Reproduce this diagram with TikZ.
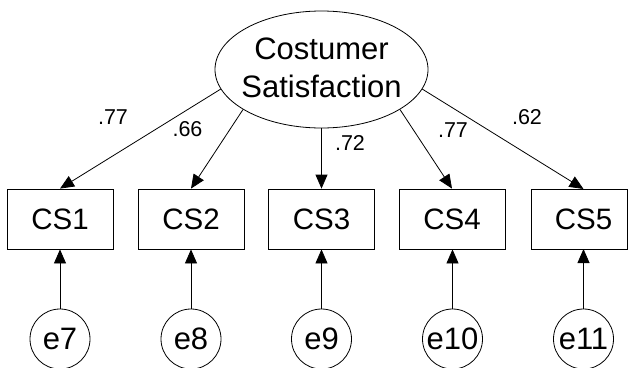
\documentclass[tikz,border=0pt]{standalone}
\usepackage{fontspec}
\setmainfont{Liberation Sans}
\usetikzlibrary{shapes.geometric,arrows.meta}
\begin{document}
\begin{tikzpicture}[x=1bp,y=-1bp,
  every node/.style={inner sep=0pt},
  latent/.style={draw, ellipse, line width=0.8bp, minimum width=213bp, minimum height=117bp},
  caption/.style={font=\fontsize{31bp}{38bp}\selectfont, align=center},
  indicator/.style={draw, rectangle, line width=0.8bp, minimum width=106bp, minimum height=60bp,
    font=\fontsize{29.5bp}{34bp}\selectfont},
  errvar/.style={draw, circle, line width=0.8bp, minimum size=60bp,
    font=\fontsize{31bp}{34bp}\selectfont},
  regpath/.style={line width=0.8bp, -{Triangle[length=14bp,width=12bp]}},
  weight/.style={font=\fontsize{21.5bp}{24bp}\selectfont}
]
\useasboundingbox (0,0) rectangle (628,367);

% latent factor
\node[latent] (ell) at (321.5,69.5) {};
\node[caption] (elltext) at (321.5,67.7) {Costumer\\Satisfaction};

% observed indicators
\node[indicator] (cs1) at (60,219) {CS1};
\node[indicator] (cs2) at (191,219) {CS2};
\node[indicator] (cs3) at (321.5,219) {CS3};
\node[indicator] (cs4) at (452,219) {CS4};
\node[indicator, minimum width=96bp] (cs5) at (579,219) {\hspace*{9bp}CS5};
\coordinate (cs5top) at (583.5,189);
\coordinate (cs5bot) at (583.5,249);

% error terms
\node[errvar] (e7) at (60,339) {e7};
\node[errvar] (e8) at (191,339) {e8};
\node[errvar] (e9) at (321.5,339) {e9};
\node[errvar] (e10) at (452.5,339) {e10};
\node[errvar] (e11) at (583.5,339) {e11};

% factor loadings
\draw[regpath] (ell.191) -- (cs1.north);
\draw[regpath] (ell.207) -- (cs2.north);
\draw[regpath] (ell.south) -- (cs3.north);
\draw[regpath] (ell.333) -- (cs4.north);
\draw[regpath] (ell.349) -- (cs5top);

% error paths
\draw[regpath] (e7) -- (cs1);
\draw[regpath] (e8) -- (cs2);
\draw[regpath] (e9) -- (cs3);
\draw[regpath] (e10.north) -- (e10.north |- cs4.south);
\draw[regpath] (e11) -- (cs5bot);

% standardized weights
\node[weight] (w1) at (113,117.5) {.77};
\node[weight] (w2) at (187.5,129.5) {.66};
\node[weight] (w3) at (350,143) {.72};
\node[weight] (w4) at (453,130.5) {.77};
\node[weight] (w5) at (527,117.5) {.62};
\end{tikzpicture}
\end{document}
